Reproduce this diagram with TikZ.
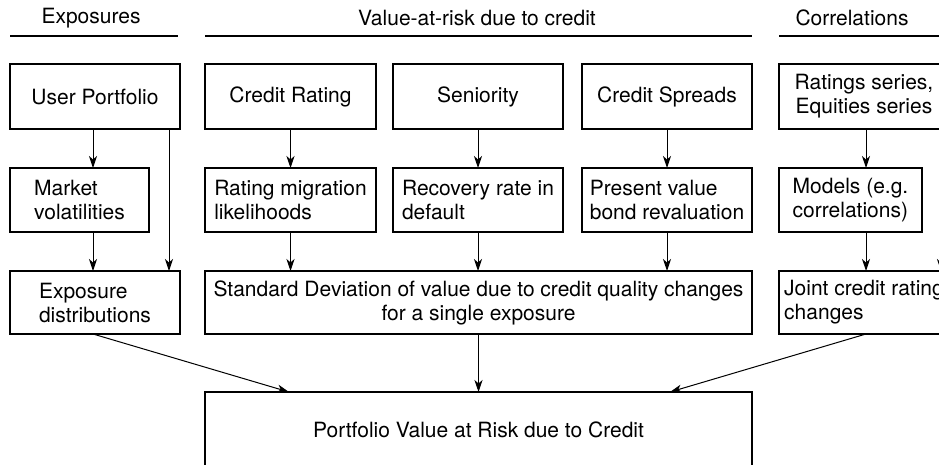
\documentclass[tikz,border=0pt]{standalone}
\usepackage{fontspec}
\setmainfont{TeX Gyre Heros}
\usetikzlibrary{arrows.meta}
\begin{document}
\begin{tikzpicture}[x=1pt,y=-1pt,
  txt/.style={font=\fontsize{21}{24}\selectfont, inner sep=0pt},
  box/.style={draw, line width=1.1pt, inner sep=2pt, outer sep=0pt, align=left,
              font=\fontsize{21}{24}\selectfont},
  cbox/.style={box, align=center},
  arr/.style={line width=1pt, -{Stealth[length=12pt,width=8pt,inset=3.5pt]}},
  hline/.style={line width=1.1pt}]
\fill[white] (0,0) rectangle (939,464);
\useasboundingbox (0,0) rectangle (939,464);

% headers
\node[txt] (h1) at (91,18) {Exposures};
\node[txt] (h2) at (477,18) {Value-at-risk due to credit};
\node[txt] (h3) at (852,18) {Correlations};
\draw[hline] (10,36) -- (178,36);
\draw[hline] (205,36) -- (752,36);
\draw[hline] (779,36) -- (945,36);

% exposures column
\node[cbox, minimum width=170pt, minimum height=65pt] (up) at (95,96.5) {User Portfolio};
\node[box, minimum width=139pt, minimum height=64pt] (mv) at (79.5,200) {Market\\volatilities};
\node[box, minimum width=170pt, minimum height=63pt] (ex) at (95,302.5) {Exposure\\distributions};

% value-at-risk column
\node[cbox, minimum width=171pt, minimum height=65pt] (cr) at (290.5,96.5) {Credit Rating};
\node[box, minimum width=171pt, minimum height=64pt] (rm) at (290.5,200) {Rating migration\\likelihoods};
\node[cbox, minimum width=170pt, minimum height=65pt] (se) at (478,96.5) {Seniority};
\node[box, minimum width=170pt, minimum height=64pt] (rr) at (478,200) {Recovery rate in\\default};
\node[cbox, minimum width=170pt, minimum height=65pt] (cs) at (667,96.5) {Credit Spreads};
\node[box, minimum width=170pt, minimum height=64pt] (pv) at (667,200) {Present value\\bond revaluation};
\node[cbox, minimum width=547pt, minimum height=63pt] (sd) at (478.5,302.5)
  {Standard Deviation of value due to credit quality changes\\for a single exposure};

% correlations column
\node[cbox, minimum width=170pt, minimum height=65pt] (rs) at (864,96.5) {Ratings series,\\Equities series};
\node[box, minimum width=143pt, minimum height=64pt] (mo) at (850.5,200) {Models (e.g.\\correlations)};
\node[box, minimum width=170pt, minimum height=63pt] (jc) at (864,302.5) {Joint credit rating\\changes};

% bottom (its lower edge lies below the picture)
\node[cbox, minimum width=547pt, minimum height=80pt] (bt) at (478.5,432)
  {\raisebox{4pt}{Portfolio Value at Risk due to Credit}};

% helper coordinates
\coordinate (xa) at (93,0);
\coordinate (xb) at (169,0);
\coordinate (xc) at (866,0);
\coordinate (xd) at (941,0);
\coordinate (bl) at (289,392);
\coordinate (br) at (670,392);

% connectors
\draw[arr] (up.south -| xa) -- (mv.north -| xa);
\draw[arr] (mv.south -| xa) -- (ex.north -| xa);
\draw[arr] (up.south -| xb) -- (ex.north -| xb);

\draw[arr] (cr.south) -- (rm.north);
\draw[arr] (se.south) -- (rr.north);
\draw[arr] (cs.south) -- (pv.north);
\draw[arr] (rm.south) -- (sd.north -| rm.south);
\draw[arr] (rr.south) -- (sd.north -| rr.south);
\draw[arr] (pv.south) -- (sd.north -| pv.south);

\draw[arr] (rs.south -| xc) -- (mo.north -| xc);
\draw[arr] (mo.south -| xc) -- (jc.north -| xc);
\draw[arr] (rs.south -| xd) -- (jc.north -| xd);

\draw[arr] (sd.south) -- (bt.north -| sd.south);
\draw[arr] (ex.south -| xa) -- (bl);
\draw[arr] (jc.south -| xc) -- (br);
\end{tikzpicture}
\end{document}
